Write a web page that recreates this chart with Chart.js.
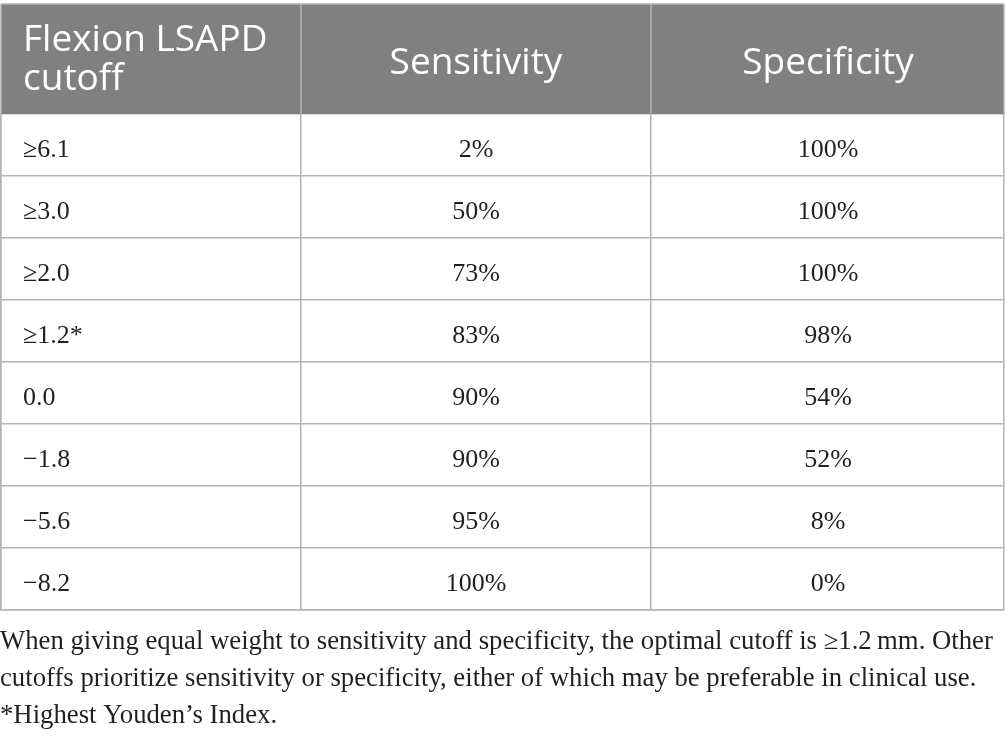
<!DOCTYPE html>
<html>
<head>
<meta charset="utf-8">
<script src="https://cdn.jsdelivr.net/npm/chart.js@4.4.1/dist/chart.umd.min.js"></script>
<style>
  html, body { margin: 0; padding: 0; background: #ffffff; }
  #wrap { width: 1005px; height: 740px; position: relative; }
</style>
</head>
<body>
<div id="wrap"><canvas id="c" role="img" aria-label="Table: Flexion LSAPD cutoff, Sensitivity, Specificity"></canvas></div>
<script>
// ---- data ----
const headerLabels = ['Flexion LSAPD\ncutoff', 'Sensitivity', 'Specificity'];
const cutoffs = ['\u22656.1', '\u22653.0', '\u22652.0', '\u22651.2*', '0.0', '\u22121.8', '\u22125.6', '\u22128.2'];
const sensitivity = [2, 50, 73, 83, 90, 90, 95, 100];
const specificity = [100, 100, 100, 98, 54, 52, 8, 0];
const footnoteLines = [
  'When giving equal weight to sensitivity and specificity, the optimal cutoff is \u22651.2\u2009mm. Other',
  'cutoffs prioritize sensitivity or specificity, either of which may be preferable in clinical use.',
  '*Highest Youden\u2019s Index.'
];

// ---- layout / style (not data) ----
const colBounds = [0, 300, 650, 1003];          // x-scale units
const colAnchor = [22, 475, 827];               // text anchors in x-scale units
const colAlign = ['left', 'center', 'center'];
const headerTop = 4;
const gridColor = '#b3b3b3';
const headerFill = '#7f807f';
const serif = '"Liberation Serif", "DejaVu Serif", serif';
const sans = '"Open Sans", "Noto Sans", sans-serif';

const pct = v => v + '%';

const tablePlugin = {
  id: 'tablePlugin',
  beforeDatasetsDraw(chart) {
    const { ctx, chartArea } = chart;
    const xs = chart.scales.x;
    ctx.save();
    ctx.fillStyle = headerFill;
    ctx.fillRect(chartArea.left, headerTop, chartArea.right - chartArea.left, chartArea.top - headerTop);
    ctx.strokeStyle = gridColor;
    ctx.lineWidth = 1.5;
    ctx.beginPath();
    ctx.moveTo(chartArea.left, headerTop); ctx.lineTo(chartArea.right, headerTop);
    colBounds.forEach(b => {
      const px = xs.getPixelForValue(b);
      ctx.moveTo(px, headerTop); ctx.lineTo(px, chartArea.top);
    });
    ctx.stroke();
    ctx.fillStyle = '#ffffff';
    ctx.font = '37px ' + sans;
    ctx.textBaseline = 'alphabetic';
    headerLabels.forEach((h, i) => {
      const lines = h.split('\n');
      ctx.textAlign = colAlign[i];
      const px = xs.getPixelForValue(colAnchor[i]);
      if (lines.length === 1) {
        ctx.fillText(lines[0], px, 74);
      } else {
        lines.forEach((ln, k) => ctx.fillText(ln, px, 51 + k * 39));
      }
    });
    ctx.restore();
  },
  afterDatasetsDraw(chart) {
    const { ctx, chartArea } = chart;
    ctx.save();
    ctx.fillStyle = '#231f20';
    ctx.font = '26px ' + serif;
    ctx.textBaseline = 'alphabetic';
    chart.data.datasets.forEach((ds, di) => {
      const meta = chart.getDatasetMeta(di);
      ctx.textAlign = colAlign[di];
      meta.data.forEach((el, i) => {
        ctx.fillText(ds.texts[i], el.x, el.y + 12);
      });
    });
    ctx.textAlign = 'left';
    ctx.font = '26px ' + serif;
    const w = ctx.measureText(footnoteLines[0]).width;
    const fs = 26 * 993 / w;
    ctx.font = fs.toFixed(2) + 'px ' + serif;
    footnoteLines.forEach((ln, k) => ctx.fillText(ln, 0, chartArea.bottom + 39 + k * 37));
    ctx.restore();
  }
};

const mk = (texts, col) => ({
  label: headerLabels[col],
  texts: texts,
  data: texts.map((t, i) => ({ x: colAnchor[col], y: i })),
  pointRadius: 0,
  showLine: false
});

new Chart(document.getElementById('c'), {
  type: 'scatter',
  data: {
    datasets: [
      mk(cutoffs, 0),
      mk(sensitivity.map(pct), 1),
      mk(specificity.map(pct), 2)
    ]
  },
  options: {
    responsive: true,
    maintainAspectRatio: false,
    animation: false,
    events: [],
    layout: { padding: { top: 114, bottom: 130, left: 1, right: 1 } },
    plugins: { legend: { display: false }, tooltip: { enabled: false }, title: { display: false } },
    scales: {
      x: {
        type: 'linear', min: colBounds[0], max: colBounds[colBounds.length - 1],
        afterBuildTicks: s => { s.ticks = colBounds.map(v => ({ value: v })); },
        ticks: { display: false },
        grid: { color: gridColor, lineWidth: 1.5, drawTicks: false },
        border: { display: true, color: gridColor, width: 1.5 }
      },
      y: {
        type: 'category', labels: cutoffs, offset: true,
        ticks: { display: false },
        grid: { offset: true, color: gridColor, lineWidth: 1.5, drawTicks: false },
        border: { display: true, color: gridColor, width: 1.5 }
      }
    }
  },
  plugins: [tablePlugin]
});
</script>
</body>
</html>
